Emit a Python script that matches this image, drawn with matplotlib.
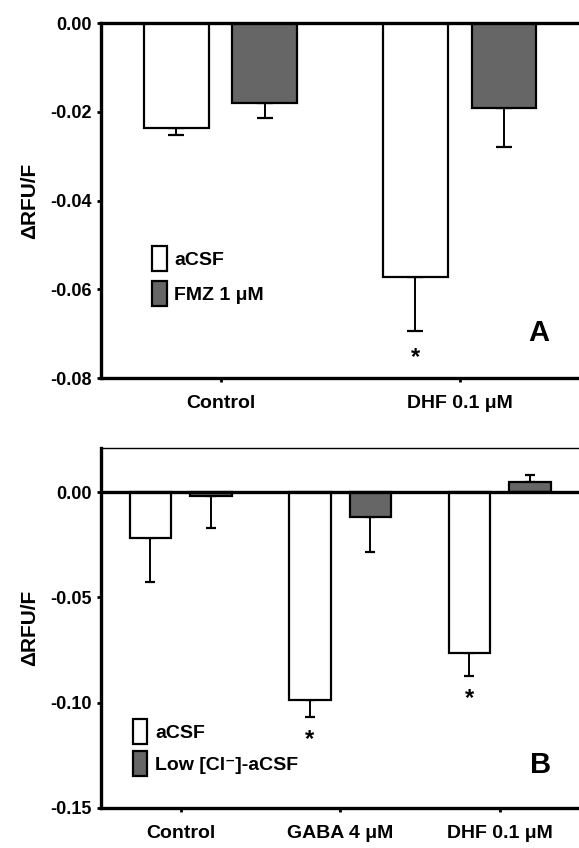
import matplotlib
matplotlib.use("Agg")
import matplotlib.pyplot as plt
import numpy as np

plt.rcParams['font.family'] = ['Liberation Sans', 'DejaVu Sans']
plt.rcParams['font.weight'] = 'bold'

# Panel A data
cats_a = ["Control", "DHF 0.1 μM"]
a_acsf = [-0.0237, -0.0573]
a_acsf_err = [0.0016, 0.0121]
a_fmz = [-0.0181, -0.0192]
a_fmz_err = [0.0034, 0.0087]
a_sig = [False, True]
yticks_a = [0.00, -0.02, -0.04, -0.06, -0.08]

# Panel B data
cats_b = ["Control", "GABA 4 μM", "DHF 0.1 μM"]
b_acsf = [-0.0218, -0.0987, -0.0766]
b_acsf_err = [0.0209, 0.0081, 0.0107]
b_low = [-0.0019, -0.0118, 0.0047]
b_low_err = [0.0152, 0.0167, 0.0034]
b_sig = [False, True, True]
yticks_b = [0.00, -0.05, -0.10, -0.15]

GRAY = "#666666"
FS = 13

fig = plt.figure(figsize=(5.79, 8.48), dpi=100)
axA = fig.add_axes([0.1744, 0.5542, 0.826, 0.4186])
axB = fig.add_axes([0.1744, 0.0472, 0.826, 0.4245])


def one_sided(vals, errs):
    lo = [e if v < 0 else 0 for v, e in zip(vals, errs)]
    hi = [e if v >= 0 else 0 for v, e in zip(vals, errs)]
    return [lo, hi]


def draw(ax, cats, s1, e1, s2, e2, sig, off, width, capsize, star_gap):
    x = np.arange(len(cats))
    b1 = ax.bar(x - off, s1, width, color="white", edgecolor="black", linewidth=1.6, zorder=2)
    b2 = ax.bar(x + off, s2, width, color=GRAY, edgecolor="black", linewidth=1.6, zorder=2)
    ax.errorbar(x - off, s1, yerr=one_sided(s1, e1), fmt="none", ecolor="black",
                elinewidth=1.4, capsize=capsize, capthick=1.6, zorder=1)
    ax.errorbar(x + off, s2, yerr=one_sided(s2, e2), fmt="none", ecolor="black",
                elinewidth=1.4, capsize=capsize, capthick=1.6, zorder=1)
    for xi, v, e, s in zip(x - off, s1, e1, sig):
        if s:
            ax.text(xi, v - e - star_gap, "*", ha="center", va="top", fontsize=17, fontweight="bold")
    ax.set_xticks(x)
    ax.set_xticklabels(cats, fontsize=14, fontweight="bold")
    ax.set_xlim(-0.5, len(cats) - 0.5)
    for sp in ["left", "bottom"]:
        ax.spines[sp].set_linewidth(2.4)
    ax.spines["right"].set_visible(False)
    ax.tick_params(axis="both", direction="out", length=3, width=2, labelsize=FS)
    ax.tick_params(axis="x", pad=9, labelsize=14)
    ax.set_ylabel("ΔRFU/F", fontsize=15, fontweight="bold", labelpad=8)
    for lab in ax.get_yticklabels():
        lab.set_fontweight("bold")
    return b1, b2


leg_kw = dict(frameon=False, handlelength=0.75, handleheight=1.6, handletextpad=0.4,
              labelspacing=0.5, prop={"weight": "bold", "size": 14})

b1, b2 = draw(axA, cats_a, a_acsf, a_acsf_err, a_fmz, a_fmz_err, a_sig, 0.185, 0.27, 5.5, 0.0033)
axA.set_ylim(-0.08, 0.0)
axA.set_yticks(yticks_a)
axA.set_yticklabels([f"{t:.2f}" for t in yticks_a], fontweight="bold")
axA.spines["top"].set_linewidth(2.4)
axA.legend([b1, b2], ["aCSF", "FMZ 1 μM"], loc="upper left", bbox_to_anchor=(0.07, 0.42), **leg_kw)
axA.text(0.916, 0.127, "A", transform=axA.transAxes, fontsize=21, fontweight="bold", ha="center", va="center")

c1, c2 = draw(axB, cats_b, b_acsf, b_acsf_err, b_low, b_low_err, b_sig, 0.19, 0.26, 3.5, 0.0053)
axB.set_ylim(-0.15, 0.021)
axB.set_yticks(yticks_b)
axB.set_yticklabels([f"{t:.2f}" for t in yticks_b], fontweight="bold")
axB.spines["top"].set_linewidth(1.0)
axB.axhline(0, color="black", linewidth=2.4, zorder=3)
axB.legend([c1, c2], ["aCSF", "Low [Cl⁻]-aCSF"], loc="upper left", bbox_to_anchor=(0.03, 0.295),
           frameon=False, handlelength=0.75, handleheight=1.6, handletextpad=0.4,
           labelspacing=0.35, prop={"weight": "bold", "size": 14})
axB.text(0.92, 0.12, "B", transform=axB.transAxes, fontsize=21, fontweight="bold", ha="center", va="center")

fig.savefig("out.png", dpi=100)
